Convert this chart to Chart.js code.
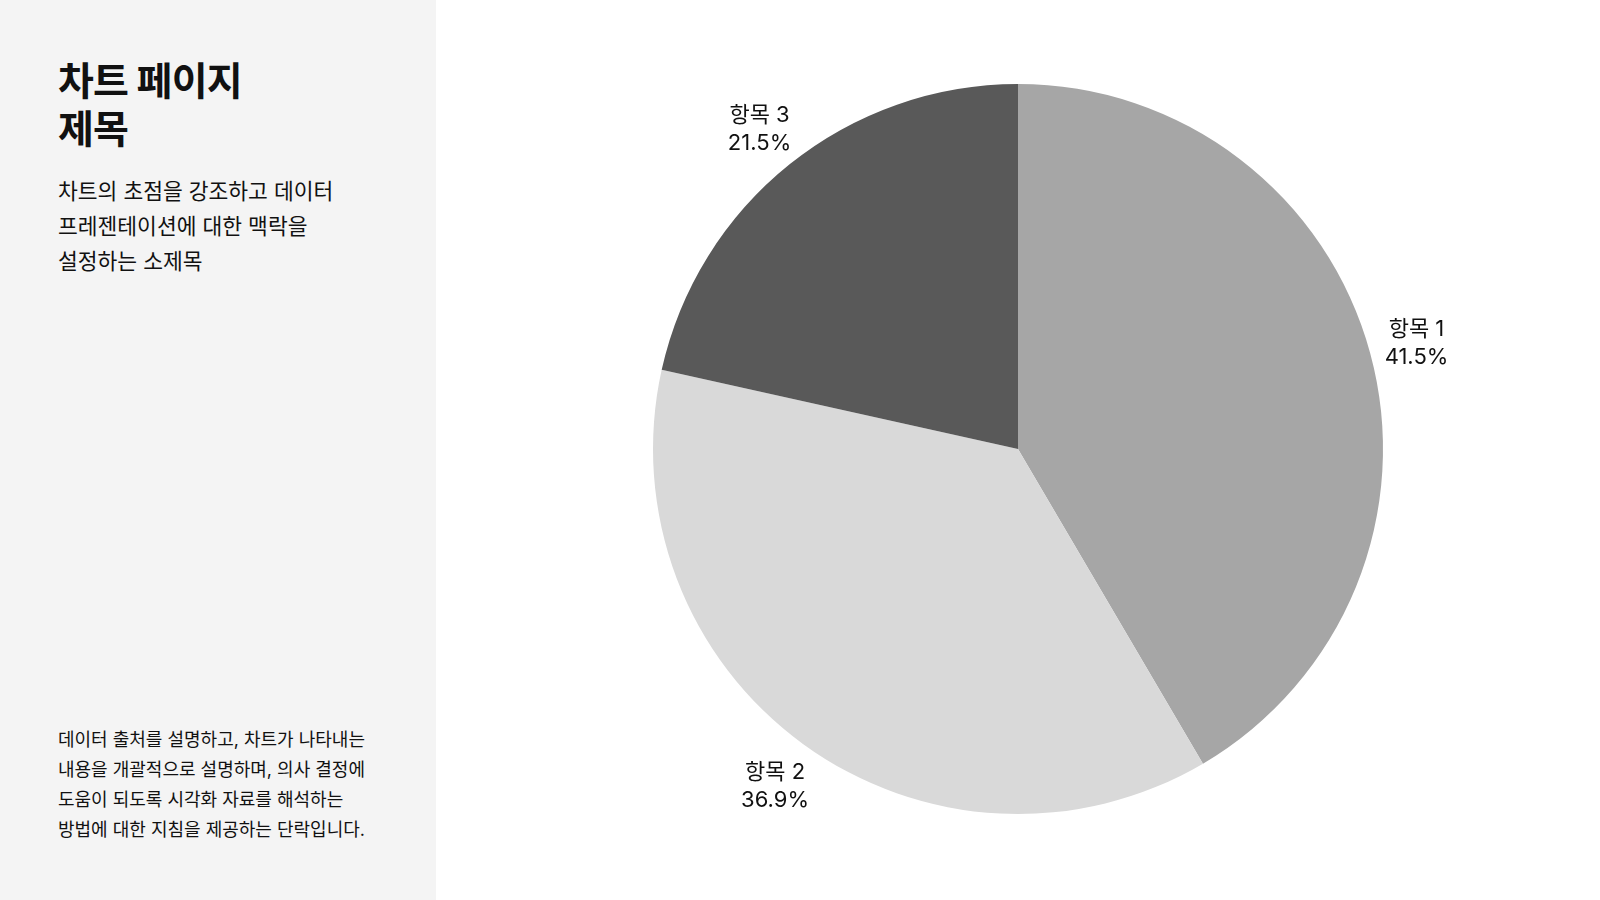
<!DOCTYPE html>
<html>
<head>
    <meta charset="utf-8">
    <title>차트 페이지 제목</title>
    <script src="https://cdn.jsdelivr.net/npm/chart.js"></script>
    <style>
        html, body {
            margin: 0;
            padding: 0;
            background: #ffffff;
        }
        body {
            width: 1600px;
            height: 900px;
            display: flex;
            font-family: 'Inter', 'Noto Sans CJK KR', sans-serif;
            color: #111111;
            overflow: hidden;
        }
        .side {
            width: 436px;
            height: 900px;
            box-sizing: border-box;
            background: #f4f4f4;
            padding: 57px 30px 55px 58px;
            display: flex;
            flex-direction: column;
        }
        .side h1 {
            margin: 0;
            font-size: 39px;
            line-height: 48px;
            font-weight: 700;
            letter-spacing: -0.8px;
        }
        .side .subtitle {
            margin: 21px 0 0 0;
            font-size: 21.5px;
            line-height: 35px;
        }
        .side .note {
            margin: auto 0 0 0;
            font-size: 18px;
            line-height: 30px;
        }
        .chart-box {
            position: relative;
            width: 1164px;
            height: 900px;
        }
    </style>
</head>
<body>
    <div class="side">
        <h1>차트 페이지<br>제목</h1>
        <p class="subtitle">차트의 초점을 강조하고 데이터<br>프레젠테이션에 대한 맥락을<br>설정하는 소제목</p>
        <p class="note">데이터 출처를 설명하고, 차트가 나타내는<br>내용을 개괄적으로 설명하며, 의사 결정에<br>도움이 되도록 시각화 자료를 해석하는<br>방법에 대한 지침을 제공하는 단락입니다.</p>
    </div>
    <div class="chart-box">
        <canvas id="chart"></canvas>
    </div>

    <script>
        const categories = ['항목 1', '항목 2', '항목 3'];
        const shares = [41.5, 36.9, 21.5];
        const sliceColors = ['#a6a6a6', '#d9d9d9', '#595959'];

        // labels sit outside each slice, two lines: name and percent
        const outsideLabels = {
            id: 'outsideLabels',
            afterDatasetsDraw(chart) {
                const ctx = chart.ctx;
                const arcs = chart.getDatasetMeta(0).data;
                ctx.save();
                ctx.font = '22px Inter, "Noto Sans CJK KR", sans-serif';
                ctx.fillStyle = '#111111';
                ctx.textAlign = 'center';
                ctx.textBaseline = 'middle';
                arcs.forEach((arc, i) => {
                    const p = arc.getProps(['x', 'y', 'startAngle', 'endAngle', 'outerRadius'], true);
                    const mid = (p.startAngle + p.endAngle) / 2;
                    const r = p.outerRadius + 48;
                    const x = p.x + Math.cos(mid) * r;
                    const y = p.y + Math.sin(mid) * r + 3;
                    ctx.fillText(categories[i], x, y - 14);
                    ctx.fillText(shares[i].toFixed(1) + '%', x, y + 14);
                });
                ctx.restore();
            }
        };

        new Chart(document.getElementById('chart'), {
            type: 'pie',
            data: {
                labels: categories,
                datasets: [{
                    data: shares,
                    backgroundColor: sliceColors,
                    borderWidth: 0
                }]
            },
            options: {
                responsive: true,
                maintainAspectRatio: false,
                animation: false,
                layout: {
                    padding: { top: 84, bottom: 86, left: 0, right: 0 }
                },
                plugins: {
                    legend: { display: false },
                    tooltip: { enabled: false }
                }
            },
            plugins: [outsideLabels]
        });
    </script>
</body>
</html>
